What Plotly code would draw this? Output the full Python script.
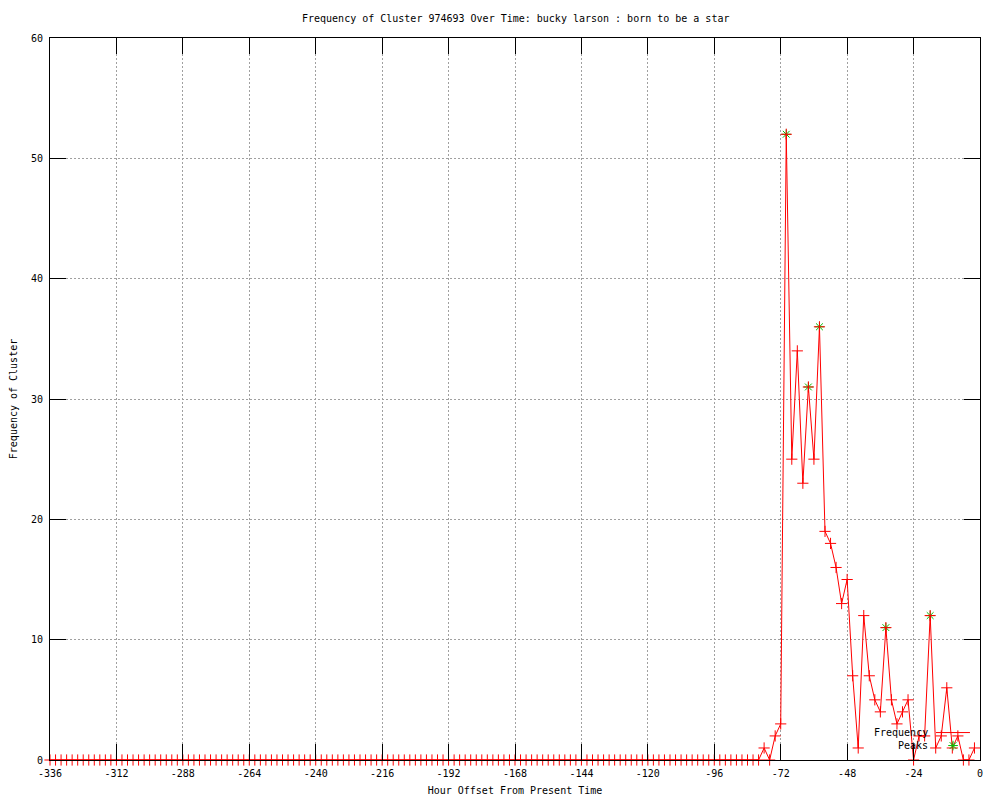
import plotly.graph_objects as go

# ---- data (hour offset every 2 hours, frequency values) ----
hours = list(range(-336, 0, 2))
frequency = [
    0, 0, 0, 0, 0, 0, 0, 0, 0, 0, 0, 0, 0, 0, 0, 0, 0, 0, 0, 0,
    0, 0, 0, 0, 0, 0, 0, 0, 0, 0, 0, 0, 0, 0, 0, 0, 0, 0, 0, 0,
    0, 0, 0, 0, 0, 0, 0, 0, 0, 0, 0, 0, 0, 0, 0, 0, 0, 0, 0, 0,
    0, 0, 0, 0, 0, 0, 0, 0, 0, 0, 0, 0, 0, 0, 0, 0, 0, 0, 0, 0,
    0, 0, 0, 0, 0, 0, 0, 0, 0, 0, 0, 0, 0, 0, 0, 0, 0, 0, 0, 0,
    0, 0, 0, 0, 0, 0, 0, 0, 0, 0, 0, 0, 0, 0, 0, 0, 0, 0, 0, 0,
    0, 0, 0, 0, 0, 0, 0, 0, 0,
    # -78 .. -2
    1, 0, 2, 3, 52, 25, 34, 23, 31, 25, 36, 19, 18, 16, 13, 15, 7, 1, 12, 7,
    5, 4, 11, 5, 3, 4, 5, 0, 2, 2, 12, 1, 2, 6, 1, 2, 0, 0, 1,
]
peak_hours = [-70, -62, -58, -34, -18]
peak_values = [52, 31, 36, 11, 12]

x_ticks = list(range(-336, 1, 24))
y_ticks = list(range(0, 61, 10))

title_text = "Frequency of Cluster 974693 Over Time: bucky larson : born to be a star"
x_title = "Hour Offset From Present Time"
y_title = "Frequency of Cluster"

RED = "#ff0000"
GREEN = "#00c000"
FONT = "DejaVu Sans Mono"

fig = go.Figure()

fig.add_trace(go.Scatter(
    x=peak_hours, y=peak_values, mode="markers", name="Peaks",
    marker=dict(symbol="asterisk", size=8, line=dict(color=GREEN, width=1)),
    cliponaxis=False, showlegend=False,
))
fig.add_trace(go.Scatter(
    x=hours, y=frequency, mode="lines+markers", name="Frequency",
    line=dict(color=RED, width=1),
    marker=dict(symbol="cross-thin", size=8, line=dict(color=RED, width=1)),
    cliponaxis=False, showlegend=False,
))

# gnuplot-style key (text left, sample right) drawn on an overlay unit axis
fig.add_trace(go.Scatter(
    x=[0.9527, 0.9892], y=[0.038, 0.038], xaxis="x2", yaxis="y2",
    mode="lines", line=dict(color=RED, width=1), showlegend=False, hoverinfo="skip",
))
fig.add_trace(go.Scatter(
    x=[0.971], y=[0.020], xaxis="x2", yaxis="y2", mode="markers",
    marker=dict(symbol="asterisk", size=8, line=dict(color=GREEN, width=1)),
    showlegend=False, hoverinfo="skip",
))

axis_common = dict(
    showline=True, linecolor="black", linewidth=1, mirror="allticks",
    ticks="inside", ticklen=16, tickcolor="black", tickwidth=1,
    showgrid=True, gridcolor="#a0a0a0", gridwidth=1, griddash="2px,2px",
    zeroline=False, tickfont=dict(family=FONT, size=10, color="black"),
    ticklabelstandoff=4, automargin=False,
)

fig.update_layout(
    width=1000, height=800,
    margin=dict(l=42, r=28, t=30, b=48),
    paper_bgcolor="white", plot_bgcolor="white",
    font=dict(family=FONT, size=10, color="black"),
    showlegend=False,
    xaxis=dict(range=[-336, 0], tickvals=x_ticks, ticktext=[str(v) for v in x_ticks],
               title=dict(text=x_title, font=dict(family=FONT, size=10), standoff=8),
               **axis_common),
    yaxis=dict(range=[0, 60], tickvals=y_ticks, ticktext=[str(v) for v in y_ticks],
               title=dict(text=y_title, font=dict(family=FONT, size=10), standoff=21),
               **axis_common),
    xaxis2=dict(overlaying="x", range=[0, 1], visible=False),
    yaxis2=dict(overlaying="y", range=[0, 1], visible=False),
    annotations=[
        dict(text=title_text, xref="paper", yref="paper", x=0.5, y=1,
             yshift=20, xanchor="center", yanchor="middle", showarrow=False,
             font=dict(family=FONT, size=10)),
        dict(text="Frequency", xref="paper", yref="paper", x=0.9462, y=0.038,
             xanchor="right", yanchor="middle", showarrow=False,
             font=dict(family=FONT, size=10)),
        dict(text="Peaks", xref="paper", yref="paper", x=0.9462, y=0.020,
             xanchor="right", yanchor="middle", showarrow=False,
             font=dict(family=FONT, size=10)),
    ],
)

fig.write_html("out.html")
